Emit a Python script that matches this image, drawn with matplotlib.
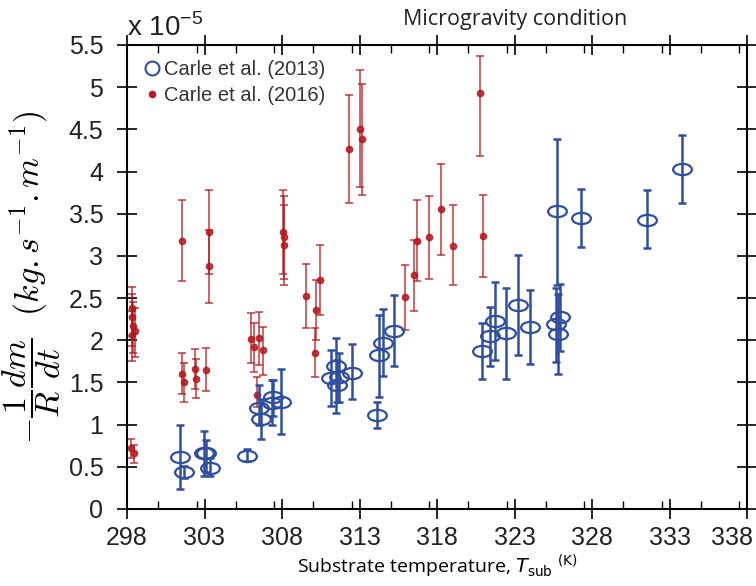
import numpy as np
import matplotlib
matplotlib.use("Agg")
import matplotlib.pyplot as plt
from matplotlib.path import Path
from matplotlib.ticker import MultipleLocator
from matplotlib.transforms import ScaledTranslation

# ---------------- data ----------------
# Carle et al. (2013): temperature (K), value (x1e-5), lower bound, upper bound
t13 = [301.43, 301.7, 302.94, 303.1, 303.37, 305.75, 306.5, 306.65, 307.36, 307.43,
       307.95, 311.14, 311.5, 311.68, 311.57, 312.54, 314.1, 314.23, 314.53, 315.24,
       320.89, 321.45, 321.71, 322.47, 323.22, 324.02, 325.75, 325.66, 325.81, 325.96,
       327.26, 331.53, 333.79]
v13 = [0.62, 0.44, 0.665, 0.66, 0.49, 0.63, 1.20, 1.07, 1.26, 1.33,
       1.27, 1.55, 1.69, 1.565, 1.465, 1.615, 1.11, 1.82, 1.97, 2.11,
       1.87, 2.045, 2.23, 2.085, 2.42, 2.155, 3.53, 2.19, 2.08, 2.27,
       3.45, 3.43, 4.03]
lo13 = [0.24, 0.37, 0.39, 0.44, 0.39, 0.57, 0.99, 0.83, 1.00, 1.10,
        0.89, 1.22, 1.14, 1.27, 1.27, 1.30, 0.965, 1.33, 1.58, 1.69,
        1.545, 1.69, 1.77, 1.545, 1.83, 1.72, 2.66, 1.74, 1.60, 1.87,
        3.11, 3.09, 3.63]
hi13 = [1.00, 0.51, 0.93, 0.82, 0.61, 0.71, 1.47, 1.30, 1.53, 1.53,
        1.66, 1.89, 2.03, 1.85, 1.77, 1.95, 1.27, 2.30, 2.37, 2.54,
        2.20, 2.40, 2.69, 2.62, 3.01, 2.59, 4.39, 2.62, 2.55, 2.67,
        3.79, 3.78, 4.43]

# Carle et al. (2016)
t16 = [298.3, 298.35, 298.4, 298.5, 298.3, 298.26, 298.47, 301.54, 301.54, 301.67,
       302.4, 302.45, 303.09, 303.29, 303.29, 306.03, 306.22, 306.52, 306.76, 306.39,
       308.08, 308.1, 308.1, 309.54, 310.12, 310.21, 310.43, 312.35, 313.06, 313.15,
       315.93, 316.49, 316.73, 317.48, 318.24, 319.04, 320.8, 320.98]
v16 = [2.38, 2.28, 2.17, 2.11, 2.06, 0.72, 0.66, 3.18, 1.60, 1.50,
       1.655, 1.545, 1.65, 3.28, 2.875, 2.01, 1.92, 2.025, 1.88, 1.35,
       3.28, 3.22, 3.13, 2.52, 1.85, 2.36, 2.72, 4.27, 4.51, 4.38,
       2.51, 2.77, 3.18, 3.22, 3.56, 3.12, 4.93, 3.235]
lo16 = [2.05, 1.93, 1.85, 1.80, 1.75, 0.60, 0.55, 2.70, 1.36, 1.27,
        1.42, 1.31, 1.40, 2.78, 2.44, 1.73, 1.62, 1.71, 1.59, 1.21,
        2.78, 2.73, 2.655, 2.14, 1.56, 2.00, 2.30, 3.625, 3.82, 3.72,
        2.12, 2.35, 2.70, 2.73, 3.01, 2.65, 4.18, 2.75]
hi16 = [2.63, 2.55, 2.45, 2.38, 2.35, 0.83, 0.76, 3.66, 1.85, 1.73,
        1.90, 1.78, 1.91, 3.78, 3.31, 2.32, 2.21, 2.34, 2.155, 1.56,
        3.78, 3.71, 3.60, 2.90, 2.14, 2.715, 3.13, 4.91, 5.20, 5.04,
        2.89, 3.19, 3.66, 3.71, 4.09, 3.60, 5.37, 3.72]

labels = ["Carle et al. (2013)", "Carle et al. (2016)"]
xticks = [298, 303, 308, 313, 318, 323, 328, 333, 338]
yticks = [0, 0.5, 1, 1.5, 2, 2.5, 3, 3.5, 4, 4.5, 5, 5.5]
ytick_labels = ["0", "0.5", "1", "1.5", "2", "2.5", "3", "3.5", "4", "4.5", "5", "5.5"]

# ---------------- plot ----------------
BLUE = "#2f4f9e"
RED = "#b5181e"
TICKFONT = 'Liberation Sans'

fig = plt.figure(figsize=(7.56, 5.86), dpi=100)
ax = fig.add_axes([127/756, 1 - 509/586, 620/756, 464/586])

t13 = np.array(t13); v13 = np.array(v13)
t16 = np.array(t16); v16 = np.array(v16)
err13 = [v13 - np.array(lo13), np.array(hi13) - v13]
err16 = [v16 - np.array(lo16), np.array(hi16) - v16]

circ = Path.unit_circle()
ell = Path(circ.vertices * np.array([1.0, 0.6]), circ.codes)

ax.errorbar(t16, v16, yerr=err16, fmt='o', color=RED, ecolor=RED, elinewidth=1.1,
            capsize=3, capthick=1.1, markersize=4.5, alpha=0.85, zorder=2)
ax.errorbar(t13, v13, yerr=err13, fmt='none', ecolor=BLUE, elinewidth=1.8,
            capsize=3, capthick=1.8, zorder=3)
ax.plot(t13, v13, linestyle='none', marker=ell, markersize=13.5, markerfacecolor='none',
        markeredgecolor=BLUE, markeredgewidth=1.6, zorder=4)

# legend (manual handles)
h1, = ax.plot([], [], linestyle='none', marker='o', markersize=10, markerfacecolor='none',
              markeredgecolor=BLUE, markeredgewidth=1.5)
h2, = ax.plot([], [], linestyle='none', marker='o', markersize=4.5, color=RED)
leg = ax.legend([h1, h2], labels, loc='upper left', frameon=False,
                prop={'family': 'Liberation Sans', 'size': 14.5},
                handletextpad=0.1, handlelength=1.0, borderaxespad=0.3,
                labelspacing=0.35, borderpad=0.45)
for t in leg.get_texts():
    t.set_color('#333333')

ax.set_xlim(298, 338)
ax.set_ylim(0, 5.5)
ax.set_xticks(xticks)
ax.set_xticklabels([str(x) for x in xticks])
ax.xaxis.set_minor_locator(MultipleLocator(2.5))
ax.set_yticks(yticks)
ax.set_yticklabels(ytick_labels)

for lab in ax.get_xticklabels() + ax.get_yticklabels():
    lab.set_fontfamily(TICKFONT)
    lab.set_fontsize(18)
    lab.set_color('#222222')

ax.tick_params(which='major', direction='inout', length=14, width=1.2,
               top=True, right=True)
ax.tick_params(axis='y', which='major', pad=10)
ax.tick_params(axis='x', which='major', pad=5)
ax.tick_params(which='minor', direction='in', length=6, width=1.0, top=True)
for s in ax.spines.values():
    s.set_linewidth(1.5)

# squeeze the last x tick label inside the figure, as in the reference
last = ax.get_xticklabels()[-1]
last.set_transform(last.get_transform() + ScaledTranslation(-15/100, 0, fig.dpi_scale_trans))

ax.set_ylabel(r"$-\dfrac{1}{R}\dfrac{dm}{dt}\ \ (kg.s^{-1}.m^{-1})$",
              fontsize=24.5, math_fontfamily='cm', labelpad=4)
ax.set_xlabel(r"Substrate temperature, $T_{\rm sub}$ $^{\rm (K)}$",
              fontsize=14, family='Open Sans', math_fontfamily='dejavusans', labelpad=2)

fig.text(127/756, 1 - 28/586, r"x 10$^{\mathregular{-5}}$", fontsize=20,
         family=TICKFONT, va='center', ha='left', color='#222222')
fig.text(515/756, 1 - 20/586, "Microgravity condition", fontsize=15.5,
         family='Open Sans', va='center', ha='center', color='#222222')

fig.savefig("out.png", dpi=100)
